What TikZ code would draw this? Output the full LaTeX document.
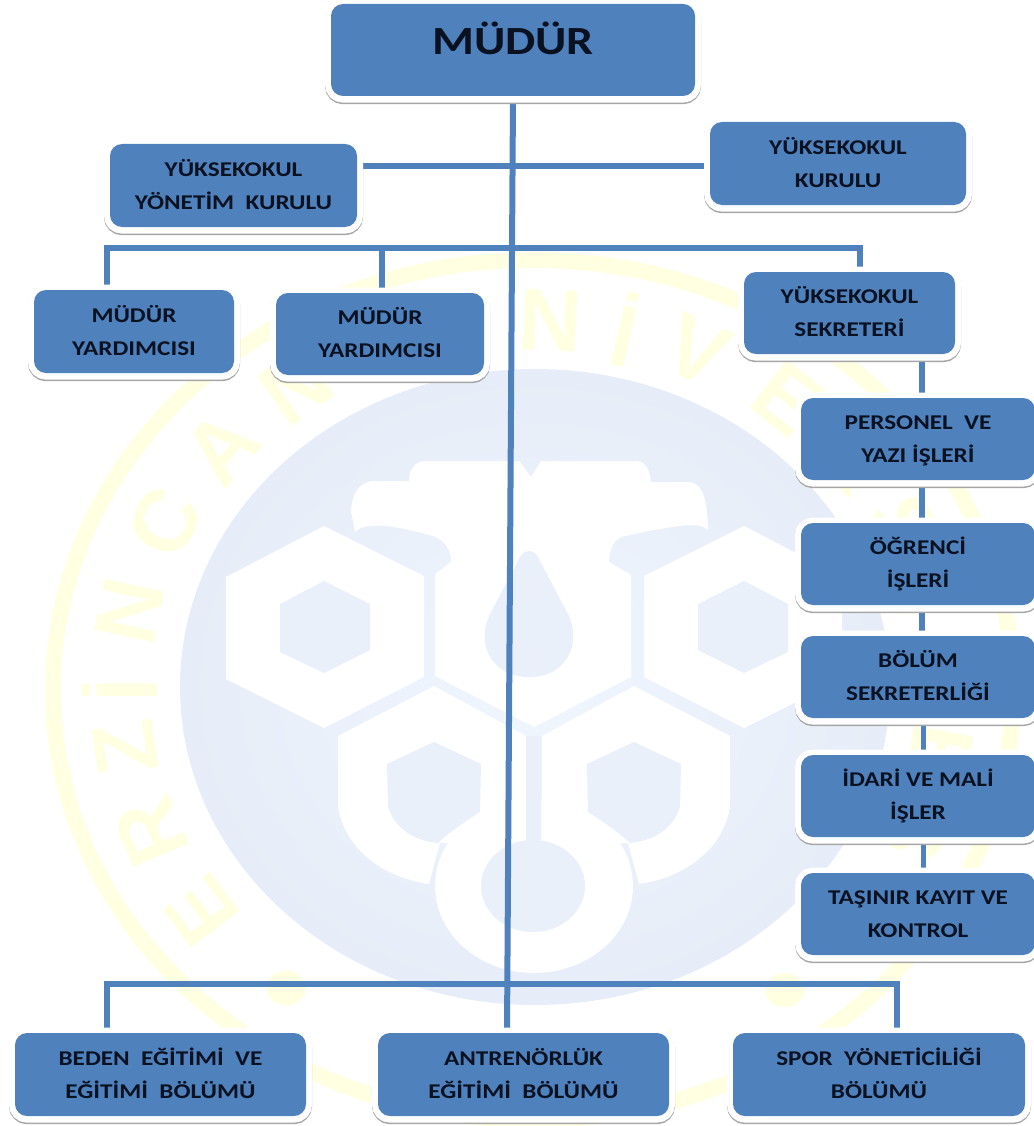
\documentclass[tikz,border=0pt]{standalone}
\usepackage{fontspec}
\setmainfont{Carlito}[FakeStretch=1.2]
\newfontfamily\markfont{Liberation Sans}
\usetikzlibrary{calc}
\usetikzlibrary{backgrounds}
\definecolor{boxblue}{HTML}{4F81BD}
\definecolor{inktext}{HTML}{0A1222}
\definecolor{discblue}{HTML}{E6EDF8}
\definecolor{discglow}{HTML}{F0F6FE}
\definecolor{holeblue}{HTML}{E9F0FA}
\definecolor{ringyellow}{HTML}{FFFFE2}
\tikzstyle{unit} = [rectangle, rounded corners=12pt, fill=boxblue, inner sep=0pt,
    text=inktext, align=center, font=\fontsize{21}{33}\selectfont\bfseries,
    minimum width=232pt, minimum height=82pt,
    preaction={draw=black!35, line width=12pt, transform canvas={yshift=-2.2pt}},
    preaction={draw=white, line width=12pt, transform canvas={yshift=-0.6pt}}]
\tikzstyle{link} = [draw=boxblue, line width=5.5pt]
\tikzstyle{sealmark} = [text=ringyellow, inner sep=0pt, font=\markfont\fontsize{88}{88}\selectfont\bfseries]
\tikzstyle{paper} = [fill=white]
\tikzstyle{hole} = [fill=holeblue]
\newcommand{\twoline}[2]{\vphantom{İÖ}#1\\\vphantom{ŞĞ}#2}

\begin{document}
\begin{tikzpicture}[x=1pt, y=-1pt]
    \useasboundingbox (0,0) rectangle (1033,1126);
    % Place nodes
    \node [unit, minimum width=364pt, minimum height=92pt, text depth=24pt,
        font=\fontsize{40}{40}\selectfont\bfseries] (mudur) at (513,50) {MÜDÜR};
    \node [unit, minimum width=247pt, minimum height=83pt] (yonetim) at (233.5,185.5) {\twoline{YÜKSEKOKUL}{YÖNETİM~~KURULU}};
    \node [unit, minimum width=256pt, minimum height=83pt] (kurulu) at (838,163.5) {\twoline{YÜKSEKOKUL}{KURULU}};
    \node [unit, minimum width=200pt, minimum height=83pt] (yardim1) at (134,331.5) {\twoline{MÜDÜR}{YARDIMCISI}};
    \node [unit, minimum width=208pt] (yardim2) at (380,334) {\twoline{MÜDÜR}{YARDIMCISI}};
    \node [unit, minimum width=211pt] (sekreter) at (849.5,313) {\twoline{YÜKSEKOKUL}{SEKRETERİ}};
    \node [unit, minimum width=234pt] (personel) at (918,439) {\twoline{PERSONEL~~VE}{YAZI İŞLERİ}};
    \node [unit, minimum width=234pt, below of=personel, node distance=125pt] (ogrenci) {\twoline{ÖĞRENCİ}{İŞLERİ}};
    \node [unit, minimum width=234pt, below of=ogrenci, node distance=113pt] (bolum) {\twoline{BÖLÜM}{SEKRETERLİĞİ}};
    \node [unit, minimum width=234pt, below of=bolum, node distance=119pt] (idari) {\twoline{İDARİ VE MALİ}{İŞLER}};
    \node [unit, minimum width=234pt, below of=idari, node distance=118pt] (tasinir) {\twoline{TAŞINIR KAYIT VE}{KONTROL}};
    \node [unit, minimum width=291pt, minimum height=83pt] (beden) at (160.5,1074.5) {\twoline{BEDEN~~EĞİTİMİ~~VE}{EĞİTİMİ~~BÖLÜMÜ}};
    \node [unit, minimum width=291pt, minimum height=83pt, right of=beden, node distance=363pt] (antren) {\twoline{ANTRENÖRLÜK}{EĞİTİMİ~~BÖLÜMÜ}};
    \node [unit, minimum width=292pt, minimum height=83pt, right of=antren, node distance=355.5pt] (spor) {\twoline{SPOR~~YÖNETİCİLİĞİ}{BÖLÜMÜ}};
    \coordinate (busa) at (513,248);
    \coordinate (busb) at (507,984);
    \begin{pgfonlayer}{background}
    % Draw seal
    \draw [ringyellow, line width=16pt] (533,690) ellipse [x radius=480, y radius=430];
    \foreach \ang/\glyph [count=\i] in {216.7/E,202.6/R,189/Z,180/İ,167.7/N,153/C,139/A,125/N,
        87.6/N,77/İ,66.5/V,52/E,39/R,26/S,14/İ,2/T,-10/E,-22/S,-35/İ}
        \node [sealmark, rotate=\ang-90] (glyph\i) at ({533+413*cos(\ang)},{690-370*sin(\ang)}) {\glyph};
    \fill [ringyellow] (286,988) ellipse [x radius=20, y radius=17];
    \fill [ringyellow] (785,990) ellipse [x radius=20, y radius=17];
    \foreach \cx in {412,491,570,653}
        \draw [ringyellow, line width=10pt] (\cx-14,1030) arc [start angle=180, end angle=360, x radius=14, y radius=-16];
    \shade [inner color=discglow, outer color=discblue] (535,687) ellipse [x radius=355, y radius=318];
    \path [paper] (351,511) .. controls (352,495) and (358,481) .. (375,481) -- (409,481)
        .. controls (409,470) and (415,461) .. (425,461) -- (519,461) -- (531,477) -- (541,461) -- (637,461)
        .. controls (645,461) and (650,470) .. (651,482) -- (686,482) .. controls (700,482) and (707,490) .. (708,530)
        .. controls (700,522) and (680,524) .. (621,537) .. controls (612,542) and (609,552) .. (609,562)
        -- (631,575) -- (631,677) -- (534,727) -- (435,676) -- (435,574) -- (451,562)
        .. controls (452,550) and (444,540) .. (433,536) .. controls (390,524) and (365,522) .. (355,532) -- cycle;
    \path [hole] (529,551) .. controls (523,551) and (520,556) .. (517,563) -- (490,614)
        .. controls (476,642) and (490,677) .. (529,677) .. controls (568,677) and (582,642) .. (568,614)
        -- (541,563) .. controls (538,556) and (535,551) .. (529,551) -- cycle;
    \foreach \sgn in {1,-1} {
        \begin{scope}[xshift=534pt, xscale=\sgn]
        \path [paper] (-210,526) -- (-110,576) -- (-110,677) -- (-210,728) -- (-308,679) -- (-308,577) -- cycle;
        \path [hole] (-210,581) -- (-164,604) -- (-164,650) -- (-210,673) -- (-254,652) -- (-254,604) -- cycle;
        \path [paper] (-196,736) -- (-100,686) -- (-8,736) -- (-8,843) -- (-94,843) -- (-105,884)
            .. controls (-149,878) and (-189,850) .. (-196,807) -- cycle;
        \path [hole] (-147,764) -- (-100,742) -- (-53,764) -- (-54,812)
            .. controls (-70,822) and (-88,835) .. (-96,843) .. controls (-125,840) and (-140,825) .. (-146,807) -- cycle;
        \end{scope}
    }
    \path [paper] (534,886) ellipse [x radius=99, y radius=87];
    \path [hole] (526,736) rectangle (541,850);
    \path [hole] (533,886) ellipse [x radius=52, y radius=46];
    % Draw edges
    \path [link] ([yshift=19.5pt]yonetim.east) -- ([yshift=-2.5pt]kurulu.west);
    \path [link] ([xshift=-27pt]yardim1.north) |- (busa) -| ([xshift=10.5pt]sekreter.north);
    \path [link] ([xshift=2pt]yardim2.north) -- ([xshift=2pt]yardim2.north |- busa);
    \foreach \upbox/\lowbox/\offx in {sekreter/personel/4pt, personel/ogrenci/4pt, ogrenci/bolum/4pt, bolum/idari/5.5pt, idari/tasinir/5.5pt}
        \path [link] ([xshift=\offx]\lowbox.north) -- ([xshift=\offx]\lowbox.north |- \upbox.south);
    \path [link] ([xshift=-53.5pt]beden.north) |- (busb) -| ([xshift=18pt]spor.north);
    \path [link, line width=6pt] (mudur.south) -- ([xshift=-16.5pt]antren.north);
    \end{pgfonlayer}
\end{tikzpicture}
\end{document}
